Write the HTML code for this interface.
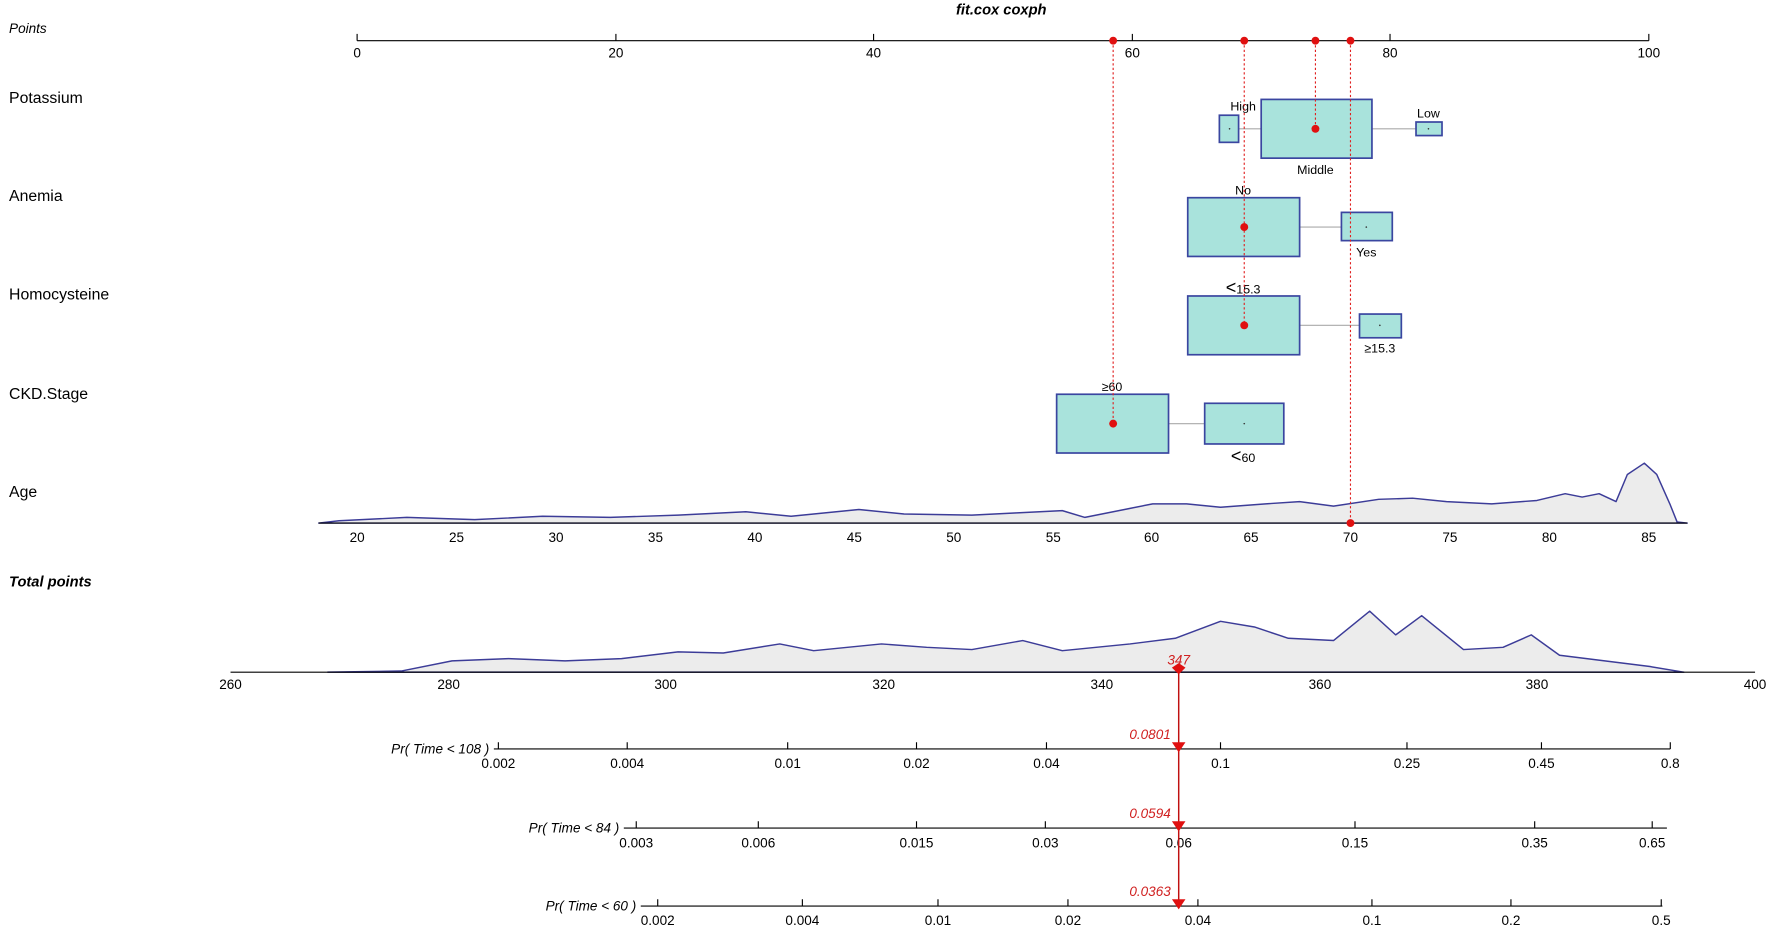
<!DOCTYPE html>
<html><head><meta charset="utf-8"><style>
html,body{margin:0;padding:0;background:#fff;}
svg{display:block;font-family:"Liberation Sans",Arial,sans-serif;}
</style></head><body>
<svg width="1772" height="932" viewBox="0 0 1568 825" preserveAspectRatio="none" xmlns="http://www.w3.org/2000/svg">
<rect width="1568" height="825" fill="#fff"/>
<text x="886" y="13" font-size="13" font-weight="bold" font-style="italic" text-anchor="middle">fit.cox coxph</text>
<text x="8" y="29" font-size="12" font-style="italic">Points</text>
<g stroke="#000" stroke-width="1">
<line x1="316" y1="36" x2="1459" y2="36"/>
<line x1="316" y1="30" x2="316" y2="36"/><line x1="545" y1="30" x2="545" y2="36"/><line x1="773" y1="30" x2="773" y2="36"/><line x1="1002" y1="30" x2="1002" y2="36"/><line x1="1230" y1="30" x2="1230" y2="36"/><line x1="1459" y1="30" x2="1459" y2="36"/>
</g>
<g font-size="12" text-anchor="middle">
<text x="316" y="51">0</text><text x="545" y="51">20</text><text x="773" y="51">40</text><text x="1002" y="51">60</text><text x="1230" y="51">80</text><text x="1459" y="51">100</text>
</g>
<g font-size="14">
<text x="8" y="91">Potassium</text><text x="8" y="178">Anemia</text><text x="8" y="265">Homocysteine</text><text x="8" y="353">CKD.Stage</text><text x="8" y="440">Age</text>
</g>
<g stroke="#aaa"><line x1="1096" y1="114" x2="1116" y2="114"/><line x1="1214" y1="114" x2="1253" y2="114"/><line x1="1150" y1="201" x2="1187" y2="201"/><line x1="1150" y1="288" x2="1203" y2="288"/><line x1="1034" y1="375" x2="1066" y2="375"/></g>
<g fill="#a9e3dc" stroke="#3a46a0" stroke-width="1.5">
<rect x="1116" y="88" width="98" height="52"/><rect x="1079" y="102" width="17" height="24"/><rect x="1253" y="108" width="23" height="12"/>
<rect x="1051" y="175" width="99" height="52"/><rect x="1187" y="188" width="45" height="25"/>
<rect x="1051" y="262" width="99" height="52"/><rect x="1203" y="278" width="37" height="21"/>
<rect x="935" y="349" width="99" height="52"/><rect x="1066" y="357" width="70" height="36"/>
</g>
<g fill="#333">
<circle cx="1264" cy="114" r="0.7"/><circle cx="1209" cy="201" r="0.7"/><circle cx="1221" cy="288" r="0.7"/><circle cx="1101" cy="375" r="0.7"/><circle cx="1088" cy="114" r="0.7"/>
</g>
<g font-size="11" text-anchor="middle">
<text x="1100" y="98">High</text><text x="1164" y="154">Middle</text><text x="1264" y="104">Low</text>
<text x="1100" y="172">No</text><text x="1209" y="227">Yes</text>
<text x="1100" y="260"><tspan font-size="16">&lt;</tspan>15.3</text><text x="1221" y="312">≥15.3</text>
<text x="984" y="346">≥60</text><text x="1100" y="409"><tspan font-size="16">&lt;</tspan>60</text>
</g>
<path d="M282,463 L300,461 L360,458 L420,460 L480,457 L540,458 L600,456 L660,453 L700,457 L760,451 L800,455 L860,456 L900,454 L940,452 L960,458 L1000,450 L1020,446 L1050,446 L1080,449 L1120,446 L1150,444 L1180,448 L1220,442 L1250,441 L1280,444 L1320,446 L1360,443 L1385,437 L1400,440 L1415,437 L1430,444 L1440,420 L1455,410 L1466,420 L1478,447 L1484,462 L1493,463 Z" fill="#ececec" stroke="#3c3c98" stroke-width="1.3" stroke-linejoin="round"/>
<line x1="282" y1="463" x2="1493" y2="463" stroke="#000"/>
<g font-size="12" text-anchor="middle">
<text x="316" y="480">20</text><text x="404" y="480">25</text><text x="492" y="480">30</text><text x="580" y="480">35</text><text x="668" y="480">40</text><text x="756" y="480">45</text><text x="844" y="480">50</text><text x="932" y="480">55</text><text x="1019" y="480">60</text><text x="1107" y="480">65</text><text x="1195" y="480">70</text><text x="1283" y="480">75</text><text x="1371" y="480">80</text><text x="1459" y="480">85</text>
</g>
<text x="8" y="519" font-size="13" font-weight="bold" font-style="italic">Total points</text>
<path d="M290,595 L355,594 L400,585 L450,583 L500,585 L550,583 L600,577 L640,578 L690,570 L720,576 L780,570 L820,573 L860,575 L905,567 L940,576 L1000,570 L1040,565 L1080,550 L1110,555 L1140,565 L1180,567 L1212,541 L1235,562 L1258,545 L1295,575 L1330,573 L1355,562 L1380,580 L1420,585 L1460,590 L1490,595 Z" fill="#ececec" stroke="#3c3c98" stroke-width="1.3" stroke-linejoin="round"/>
<line x1="204" y1="595" x2="1553" y2="595" stroke="#000"/>
<g font-size="12" text-anchor="middle">
<text x="204" y="610">260</text><text x="397" y="610">280</text><text x="589" y="610">300</text><text x="782" y="610">320</text><text x="975" y="610">340</text><text x="1168" y="610">360</text><text x="1360" y="610">380</text><text x="1553" y="610">400</text>
</g>
<g font-size="12" font-style="italic" text-anchor="end">
<text x="433" y="667">Pr( Time &lt; 108 )</text><text x="548" y="737">Pr( Time &lt; 84 )</text><text x="563" y="806">Pr( Time &lt; 60 )</text>
</g>
<g stroke="#000">
<line x1="437" y1="663" x2="1478" y2="663"/><line x1="552" y1="733" x2="1475" y2="733"/><line x1="567" y1="802" x2="1471" y2="802"/>
<path d="M441,657V663M555,657V663M697,657V663M811,657V663M926,657V663M1080,657V663M1245,657V663M1364,657V663M1478,657V663"/>
<path d="M563,727V733M671,727V733M811,727V733M925,727V733M1043,727V733M1199,727V733M1358,727V733M1462,727V733"/>
<path d="M582,796V802M710,796V802M830,796V802M945,796V802M1060,796V802M1214,796V802M1337,796V802M1470,796V802"/>
</g>
<g font-size="12" text-anchor="middle">
<text x="441" y="680">0.002</text><text x="555" y="680">0.004</text><text x="697" y="680">0.01</text><text x="811" y="680">0.02</text><text x="926" y="680">0.04</text><text x="1080" y="680">0.1</text><text x="1245" y="680">0.25</text><text x="1364" y="680">0.45</text><text x="1478" y="680">0.8</text>
<text x="563" y="750">0.003</text><text x="671" y="750">0.006</text><text x="811" y="750">0.015</text><text x="925" y="750">0.03</text><text x="1043" y="750">0.06</text><text x="1199" y="750">0.15</text><text x="1358" y="750">0.35</text><text x="1462" y="750">0.65</text>
<text x="582" y="819">0.002</text><text x="710" y="819">0.004</text><text x="830" y="819">0.01</text><text x="945" y="819">0.02</text><text x="1060" y="819">0.04</text><text x="1214" y="819">0.1</text><text x="1337" y="819">0.2</text><text x="1470" y="819">0.5</text>
</g>
<g stroke="#e02020" stroke-width="1" stroke-dasharray="2,2" fill="none">
<line x1="985" y1="36" x2="985" y2="375"/><line x1="1101" y1="36" x2="1101" y2="288"/><line x1="1164" y1="36" x2="1164" y2="114"/><line x1="1195" y1="36" x2="1195" y2="463"/>
</g>
<g fill="#e01010">
<circle cx="985" cy="36" r="3.5"/><circle cx="1101" cy="36" r="3.5"/><circle cx="1164" cy="36" r="3.5"/><circle cx="1195" cy="36" r="3.5"/>
<circle cx="1164" cy="114" r="3.5"/><circle cx="1101" cy="201" r="3.5"/><circle cx="1101" cy="288" r="3.5"/><circle cx="985" cy="375" r="3.5"/><circle cx="1195" cy="463" r="3.5"/>
</g>
<line x1="1043" y1="595" x2="1043" y2="800" stroke="#c01010" stroke-width="1.3"/>
<path d="M1037,591 L1043,597 L1049,591 L1043,587 Z" fill="#e01010"/>
<path d="M1037,657 L1049,657 L1043,666 Z M1037,727 L1049,727 L1043,736 Z M1037,796 L1049,796 L1043,805 Z" fill="#e01010"/>
<g font-size="12" font-style="italic" fill="#d02020">
<text x="1043" y="588" text-anchor="middle">347</text>
<text x="1036" y="654" text-anchor="end">0.0801</text><text x="1036" y="724" text-anchor="end">0.0594</text><text x="1036" y="793" text-anchor="end">0.0363</text>
</g>
</svg>
</body></html>
